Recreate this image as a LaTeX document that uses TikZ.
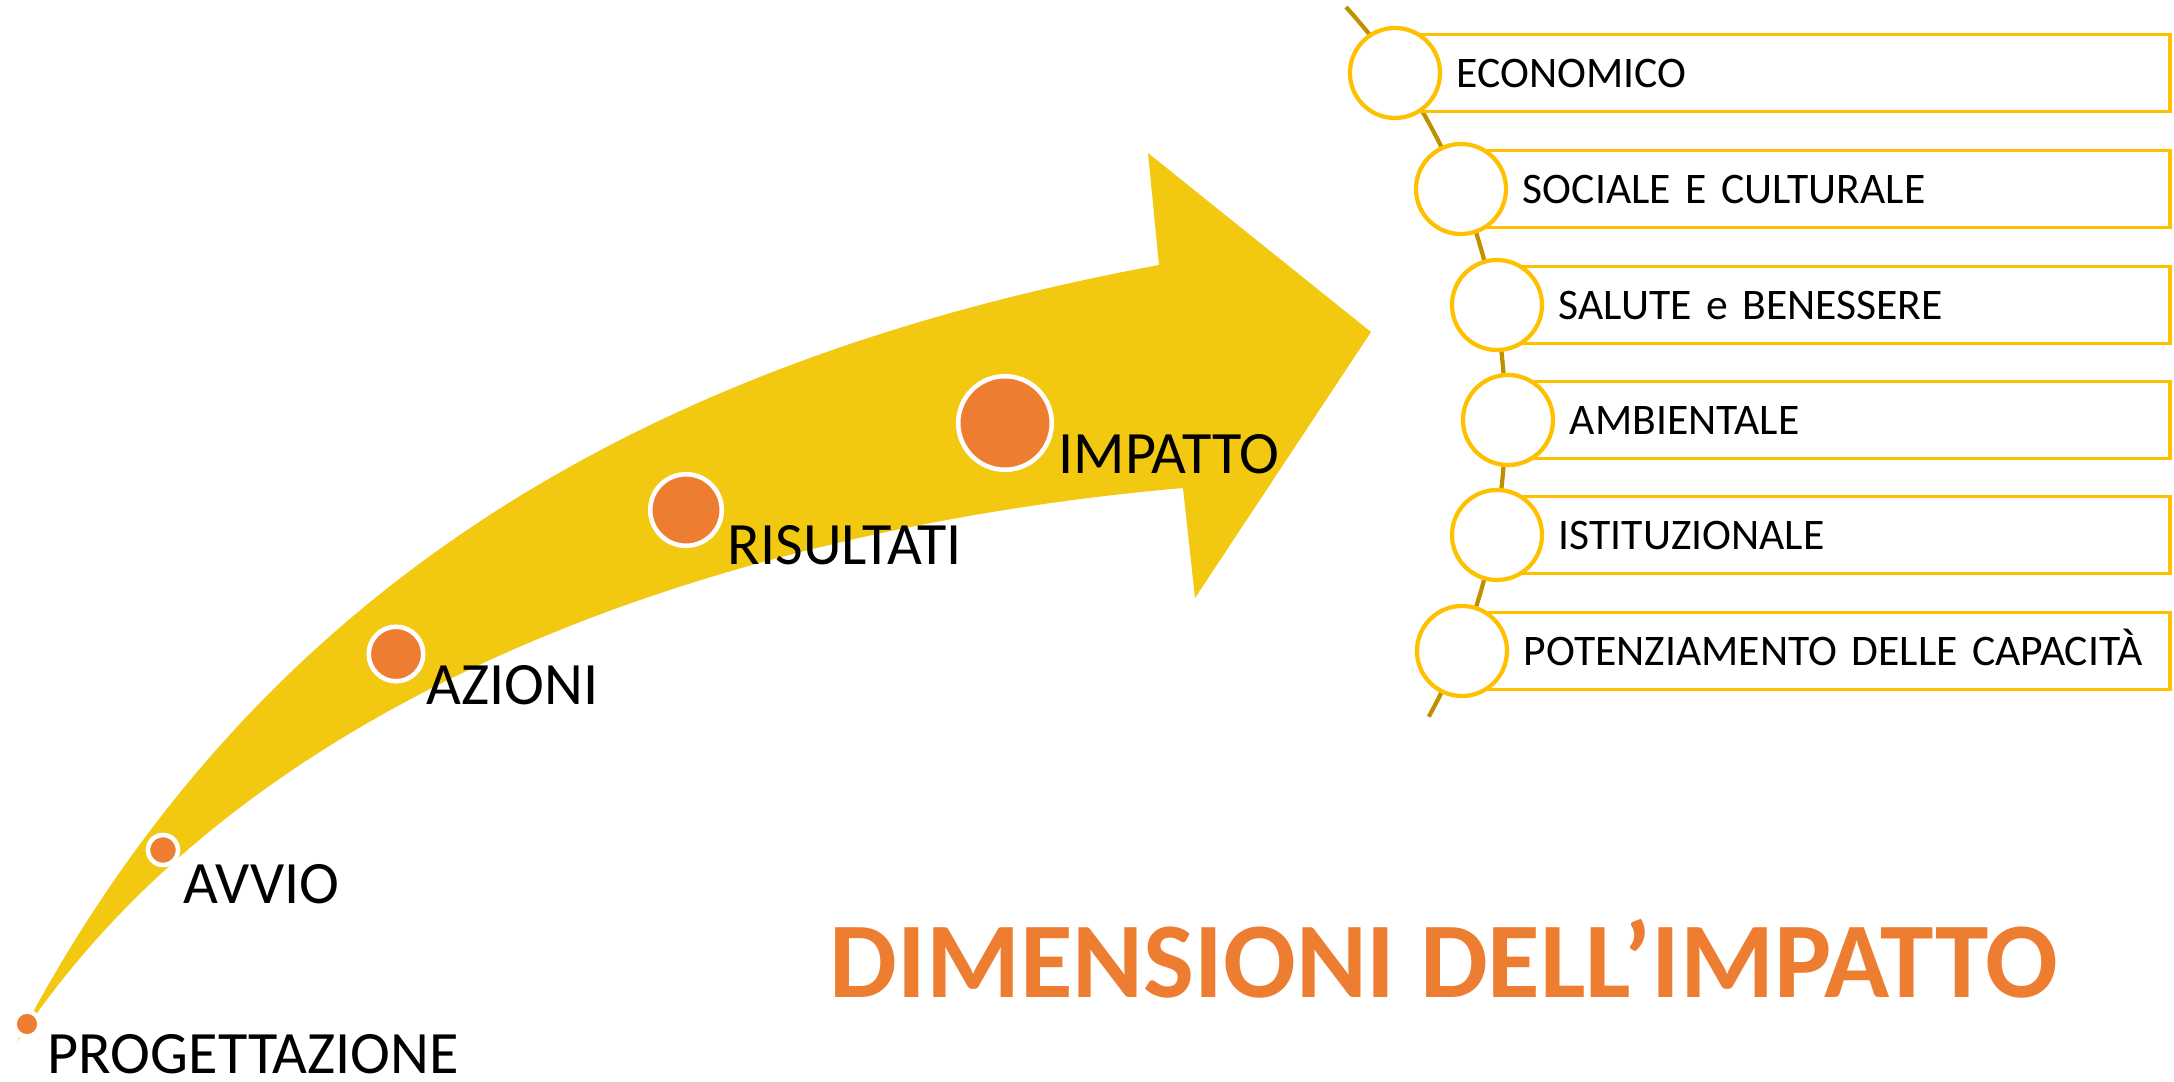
\documentclass[tikz,border=0pt]{standalone}
\usepackage{fontspec}
\setmainfont{Carlito}
\definecolor{giallo}{RGB}{242,200,17}
\definecolor{arancio}{RGB}{237,125,49}
\definecolor{oro}{RGB}{255,192,0}
\definecolor{orobruno}{RGB}{191,144,0}
\tikzset{
    tappa/.style={
        circle,
        fill=arancio,
        draw=white, line width=1.3pt,
        inner sep=0pt
    },
    etichetta/.style={anchor=base west, inner sep=0pt, font=\fontsize{17.1}{20}\selectfont},
    anello/.style={
        circle,
        draw=oro, line width=1.2pt,
        fill=white,
        minimum size=0.9cm,
        inner sep=0pt
    },
    voce/.style={
        rectangle,
        draw=oro, line width=1.1pt,
        anchor=west,
        minimum height=0.77cm,
        inner xsep=0.6cm, inner ysep=0pt,
        text height=0.28cm, text depth=0pt,
        align=left,
        font=\fontsize{12.4}{15}\selectfont
    },
    dorso/.style={draw=orobruno, line width=1.2pt}
}
\begin{document}
\begin{tikzpicture}[x=0.01cm, y=-0.01cm]
\useasboundingbox (0,0) rectangle (2174,1082);

% freccia curva
\coordinate (coda) at (17,1042);
\fill[giallo] (coda) .. controls (245,605) and (620,365) .. (1159,265)
    -- (1148,153) -- (1371,332) -- (1195,598) -- (1183,488)
    .. controls (760,525) and (260,675) .. (coda) -- cycle;

\node[tappa, minimum size=0.25cm]  (d0) at (27,1024) {};
\node[tappa, minimum size=0.30cm]  (d1) at (163,850) {};
\node[tappa, minimum size=0.545cm] (d2) at (396,654) {};
\node[tappa, minimum size=0.715cm] (d3) at (686,510) {};
\node[tappa, minimum size=0.935cm] (d4) at (1005,423) {};

\node[etichetta] (progettazione) at (47,1073) {PROGETTAZIONE};
\node[etichetta] (avvio) at (183,903) {AVVIO};
\node[etichetta] (azioni) at (426,705) {AZIONI};
\node[etichetta] (risultati) at (727,564) {RISULTATI};
\node[etichetta] (impatto) at (1058,474) {IMPATTO};

% dimensioni
\coordinate (dorsoA) at (1346,7);
\draw[dorso] (dorsoA) arc[start angle=-42.2, end angle=28.9, radius=614.5];

\node[voce, text width=6.53cm] (e1) at (1395,73)  {ECONOMICO};
\node[voce, text width=5.87cm] (e2) at (1461,189) {SOCIALE E CULTURALE};
\node[voce, text width=5.51cm] (e3) at (1497,305) {SALUTE e BENESSERE};
\node[voce, text width=5.40cm] (e4) at (1508,420) {AMBIENTALE};
\node[voce, text width=5.51cm] (e5) at (1497,535) {ISTITUZIONALE};
\node[voce, text width=5.86cm] (e6) at (1462,651) {\mbox{POTENZIAMENTO DELLE CAPACITÀ}};

\node[anello] (c1) at (e1.west) {};
\node[anello] (c2) at (e2.west) {};
\node[anello] (c3) at (e3.west) {};
\node[anello] (c4) at (e4.west) {};
\node[anello] (c5) at (e5.west) {};
\node[anello] (c6) at (e6.west) {};

\node[anchor=base west, inner sep=0pt, text=arancio, font=\bfseries\fontsize{30.6}{36}\selectfont]
    (titolo) at (829,998) {DIMENSIONI DELL’IMPATTO};
\end{tikzpicture}
\end{document}
